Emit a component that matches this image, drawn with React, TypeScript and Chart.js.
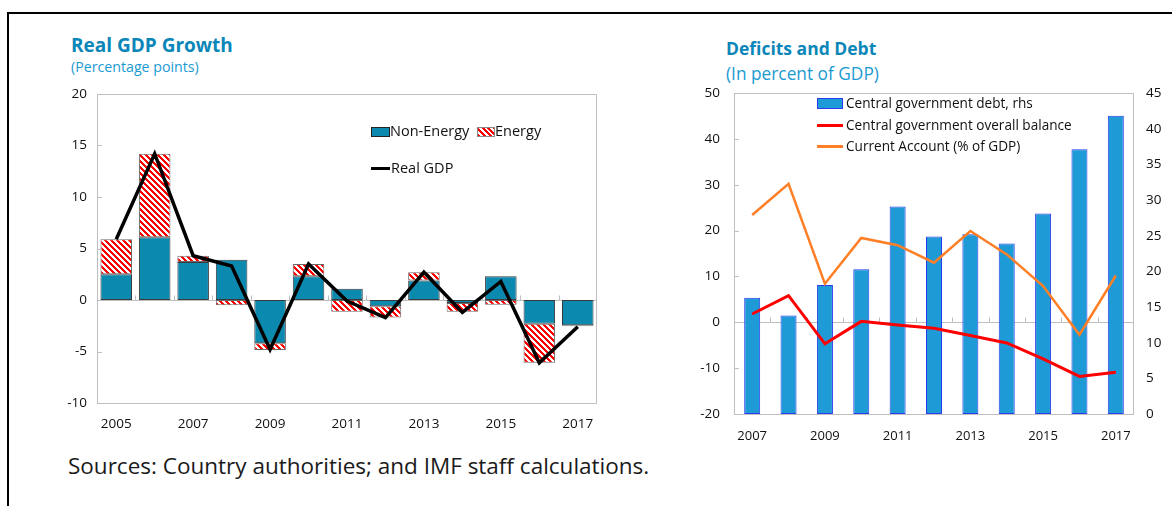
import { useEffect, useRef } from "react";
import { Chart, registerables } from "chart.js";

Chart.register(...registerables);

// ---------- Data: Real GDP Growth ----------
const gdpYears = ["2005", "2006", "2007", "2008", "2009", "2010", "2011", "2012", "2013", "2014", "2015", "2016", "2017"];
const nonEnergy = [2.5, 6.1, 3.7, 3.9, -4.2, 2.3, 1.1, -0.6, 1.9, -0.3, 2.3, -2.3, -2.45];
const energy = [3.4, 8.1, 0.6, -0.5, -0.65, 1.2, -1.15, -1.1, 0.8, -0.85, -0.45, -3.8, -0.1];
const realGdp = [5.9, 14.2, 4.3, 3.3, -4.8, 3.5, -0.1, -1.7, 2.7, -1.2, 1.8, -6.1, -2.6];
const gdpTicks = [-10, -5, 0, 5, 10, 15, 20];

// ---------- Data: Deficits and Debt ----------
const fiscalYears = ["2007", "2008", "2009", "2010", "2011", "2012", "2013", "2014", "2015", "2016", "2017"];
const govDebt = [16.3, 13.8, 18.1, 20.3, 29.1, 24.9, 25.2, 23.9, 28.1, 37.1, 41.8];
const overallBalance = [1.8, 5.8, -4.7, 0.2, -0.6, -1.3, -2.9, -4.5, -8.0, -11.8, -10.9];
const currentAccount = [23.4, 30.2, 8.4, 18.4, 16.8, 13.0, 19.9, 14.8, 7.9, -2.7, 10.2];
const leftTicks = [-20, -10, 0, 10, 20, 30, 40, 50];
const rightTicks = [0, 5, 10, 15, 20, 25, 30, 35, 40, 45];

const FONT = "'Open Sans', 'Noto Sans', sans-serif";
const TITLE_BLUE = "#0B86B8";
const SUB_BLUE = "#1A9AD2";
const TEAL = "#0B89AF";
const FRAME = "#BFBFBF";

function makeHatch(): CanvasPattern | string {
  const c = document.createElement("canvas");
  const n = 6;
  c.width = n;
  c.height = n;
  const ctx = c.getContext("2d");
  if (!ctx) return "#ff0000";
  const img = ctx.createImageData(n, n);
  for (let y = 0; y < n; y++) {
    for (let x = 0; x < n; x++) {
      const red = (x - y + n * 2) % n < 3;
      const i = (y * n + x) * 4;
      img.data[i] = 255;
      img.data[i + 1] = red ? 0 : 255;
      img.data[i + 2] = red ? 0 : 255;
      img.data[i + 3] = 255;
    }
  }
  ctx.putImageData(img, 0, 0);
  return ctx.createPattern(c, "repeat") || "#ff0000";
}

// Frame, zero axis with boundary ticks, inside y ticks
const framePlugin = {
  id: "frame",
  beforeDatasetsDraw(chart: any, _args: any, opts: any) {
    const { ctx, chartArea } = chart;
    const ys = chart.scales[opts.yId || "y"];
    const xs = chart.scales.x;
    ctx.save();
    ctx.strokeStyle = FRAME;
    ctx.lineWidth = 1;
    const y0 = Math.round(ys.getPixelForValue(0)) + 0.5;
    ctx.beginPath();
    ctx.moveTo(chartArea.left, y0);
    ctx.lineTo(chartArea.right, y0);
    const n = xs.getLabels().length;
    for (let i = 0; i < n - 1; i++) {
      const xb = Math.round((xs.getPixelForValue(i) + xs.getPixelForValue(i + 1)) / 2) + 0.5;
      ctx.moveTo(xb, y0);
      ctx.lineTo(xb, y0 - 5);
    }
    ctx.stroke();
    ctx.restore();
  },
  afterDatasetsDraw(chart: any, _args: any, opts: any) {
    const { ctx, chartArea } = chart;
    const ys = chart.scales[opts.yId || "y"];
    ctx.save();
    ctx.strokeStyle = FRAME;
    ctx.lineWidth = 1;
    ctx.strokeRect(
      Math.round(chartArea.left) + 0.5,
      Math.round(chartArea.top) + 0.5,
      Math.round(chartArea.right - chartArea.left) - 1,
      Math.round(chartArea.bottom - chartArea.top)
    );
    ctx.beginPath();
    ys.ticks.forEach((t: any) => {
      const yy = Math.round(ys.getPixelForValue(t.value)) + 0.5;
      ctx.moveTo(chartArea.left, yy);
      ctx.lineTo(chartArea.left + 5, yy);
    });
    ctx.stroke();
    ctx.restore();
  },
};

const fitY = (w: number) => (s: any) => {
  s.width = w;
  s.paddingTop = 0;
  s.paddingBottom = 0;
};
const fitX = (h: number) => (s: any) => {
  s.height = h;
  s.paddingLeft = 0;
  s.paddingRight = 0;
};

function GdpChart() {
  const ref = useRef<HTMLCanvasElement>(null);
  useEffect(() => {
    if (!ref.current) return;
    const hatch = makeHatch();
    const chart = new Chart(ref.current, {
      type: "bar",
      data: {
        labels: gdpYears,
        datasets: [
          {
            type: "line",
            label: "Real GDP",
            data: realGdp,
            borderColor: "#000000",
            borderWidth: 3.5,
            pointRadius: 0,
            fill: false,
            tension: 0,
            stack: "gdp",
            order: 0,
          } as any,
          {
            label: "Non-Energy",
            data: nonEnergy,
            backgroundColor: TEAL,
            borderColor: "#3a3a3a",
            borderWidth: 1,
            borderSkipped: false,
            stack: "parts",
            barPercentage: 0.82,
            categoryPercentage: 1,
            order: 1,
          },
          {
            label: "Energy",
            data: energy,
            backgroundColor: hatch as any,
            borderColor: "#6a6a6a",
            borderWidth: 1,
            borderSkipped: false,
            stack: "parts",
            barPercentage: 0.82,
            categoryPercentage: 1,
            order: 1,
          },
        ],
      },
      options: {
        responsive: false,
        animation: false,
        layout: { padding: { top: 10, right: 13, left: 0, bottom: 0 } },
        plugins: {
          legend: { display: false },
          tooltip: { enabled: false },
          frame: { yId: "y" },
        } as any,
        scales: {
          x: {
            stacked: true,
            grid: { display: false, drawTicks: false },
            border: { display: false },
            ticks: {
              autoSkip: false,
              maxRotation: 0,
              padding: 13,
              color: "#111",
              font: { family: FONT, size: 13.5 },
              callback: (_v: any, i: number) => (i % 2 === 0 ? gdpYears[i] : ""),
            },
            afterFit: fitX(31),
          },
          y: {
            stacked: true,
            min: -10,
            max: 20,
            grid: { display: false, drawTicks: false },
            border: { display: false },
            afterBuildTicks: (s: any) => {
              s.ticks = gdpTicks.map((v) => ({ value: v }));
            },
            ticks: {
              padding: 10,
              color: "#111",
              font: { family: FONT, size: 13.5 },
            },
            afterFit: fitY(47),
          },
        },
      },
      plugins: [framePlugin],
    });
    return () => chart.destroy();
  }, []);
  return <canvas ref={ref} width={560} height={350} style={{ position: "absolute", left: 50, top: 84, width: 560, height: 350 }} />;
}

function DebtChart() {
  const ref = useRef<HTMLCanvasElement>(null);
  useEffect(() => {
    if (!ref.current) return;
    const chart = new Chart(ref.current, {
      type: "bar",
      data: {
        labels: fiscalYears,
        datasets: [
          {
            type: "line",
            label: "Central government overall balance",
            data: overallBalance,
            borderColor: "#FF0000",
            borderWidth: 3,
            pointRadius: 0,
            tension: 0,
            yAxisID: "y",
            order: 0,
          } as any,
          {
            type: "line",
            label: "Current Account (% of GDP)",
            data: currentAccount,
            borderColor: "#FF7F27",
            borderWidth: 2.5,
            pointRadius: 0,
            tension: 0,
            yAxisID: "y",
            order: 0,
          } as any,
          {
            label: "Central government debt, rhs",
            data: govDebt,
            backgroundColor: "#1E9AD6",
            borderColor: "#2B3BEF",
            borderWidth: 1,
            borderSkipped: false,
            barPercentage: 0.44,
            categoryPercentage: 1,
            yAxisID: "y2",
            order: 1,
          },
        ],
      },
      options: {
        responsive: false,
        animation: false,
        layout: { padding: { top: 10, right: 0, left: 0, bottom: 0 } },
        plugins: {
          legend: { display: false },
          tooltip: { enabled: false },
          frame: { yId: "y" },
        } as any,
        scales: {
          x: {
            grid: { display: false, drawTicks: false },
            border: { display: false },
            ticks: {
              autoSkip: false,
              maxRotation: 0,
              padding: 14,
              color: "#111",
              font: { family: FONT, size: 13 },
              callback: (_v: any, i: number) => (i % 2 === 0 ? fiscalYears[i] : ""),
            },
            afterFit: fitX(39),
          },
          y: {
            position: "left",
            min: -20,
            max: 50,
            grid: { display: false, drawTicks: false },
            border: { display: false },
            afterBuildTicks: (s: any) => {
              s.ticks = leftTicks.map((v) => ({ value: v }));
            },
            ticks: { padding: 14, color: "#111", font: { family: FONT, size: 13.5 } },
            afterFit: fitY(54),
          },
          y2: {
            position: "right",
            min: 0,
            max: 45,
            grid: { display: false, drawTicks: false },
            border: { display: false },
            afterBuildTicks: (s: any) => {
              s.ticks = rightTicks.map((v) => ({ value: v }));
            },
            ticks: { padding: 12, color: "#111", font: { family: FONT, size: 13.5 } },
            afterFit: fitY(38),
          },
        },
      },
      plugins: [framePlugin],
    });
    return () => chart.destroy();
  }, []);
  return <canvas ref={ref} width={492} height={370} style={{ position: "absolute", left: 680, top: 83, width: 492, height: 370 }} />;
}

const abs = (s: any) => ({ position: "absolute" as const, whiteSpace: "nowrap" as const, fontFamily: FONT, ...s });

export default function App() {
  return (
    <div style={{ position: "fixed", left: 0, top: 0, width: 1172, height: 506, background: "#fff", overflow: "hidden" }}>
      <div style={{ position: "absolute", left: 7, top: 12, right: -10, bottom: -10, borderTop: "2px solid #000", borderLeft: "2px solid #000" }} />

      <div style={abs({ left: 71, top: 33, fontSize: 19, fontWeight: 700, color: TITLE_BLUE, lineHeight: "24px" })}>Real GDP Growth</div>
      <div style={abs({ left: 71, top: 58, fontSize: 14.2, color: SUB_BLUE, lineHeight: "18px" })}>(Percentage points)</div>

      <div style={abs({ left: 726, top: 37, fontSize: 17.5, fontWeight: 700, color: TITLE_BLUE, lineHeight: "22px" })}>Deficits and Debt</div>
      <div style={abs({ left: 726, top: 63, fontSize: 17.3, color: SUB_BLUE, lineHeight: "22px" })}>(In percent of GDP)</div>

      <GdpChart />
      <DebtChart />

      {/* left legend */}
      <div style={abs({ left: 371, top: 127, width: 17, height: 8, background: TEAL, border: "1px solid #222" })} />
      <div style={abs({ left: 390, top: 121, fontSize: 14.5, lineHeight: "20px", color: "#111" })}>Non-Energy</div>
      <div
        style={abs({
          left: 477,
          top: 127,
          width: 16,
          height: 8,
          border: "1px solid #888",
          background: "repeating-linear-gradient(45deg, #ff0000 0px, #ff0000 2px, #ffffff 2px, #ffffff 4px)",
        })}
      />
      <div style={abs({ left: 495, top: 121, fontSize: 14.5, lineHeight: "20px", color: "#111" })}>Energy</div>
      <div style={abs({ left: 371, top: 167, width: 19, height: 3, background: "#000" })} />
      <div style={abs({ left: 391, top: 158, fontSize: 14.5, lineHeight: "20px", color: "#111" })}>Real GDP</div>

      {/* right legend */}
      <div style={abs({ left: 817, top: 98, width: 24, height: 9, background: "#1E9AD6", border: "1px solid #2B3BEF" })} />
      <div style={abs({ left: 846, top: 93, fontSize: 13.6, lineHeight: "20px", color: "#111" })}>Central government debt, rhs</div>
      <div style={abs({ left: 817, top: 124, width: 26, height: 3, background: "#FF0000" })} />
      <div style={abs({ left: 846, top: 115, fontSize: 13.6, lineHeight: "20px", color: "#111" })}>Central government overall balance</div>
      <div style={abs({ left: 817, top: 145, width: 26, height: 3, background: "#FF7F27" })} />
      <div style={abs({ left: 846, top: 136, fontSize: 13.6, lineHeight: "20px", color: "#111" })}>Current Account (% of GDP)</div>

      <div style={abs({ left: 68, top: 451, fontSize: 22.5, lineHeight: "30px", color: "#1a1a1a" })}>
        Sources: Country authorities; and IMF staff calculations.
      </div>
    </div>
  );
}
